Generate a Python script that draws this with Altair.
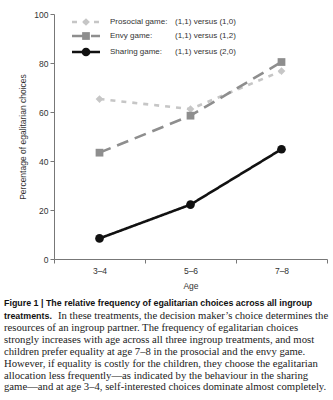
import altair as alt
import pandas as pd

ages = ["3–4", "5–6", "7–8"]
games = ["Prosocial game:", "Envy game:", "Sharing game:"]
comparisons = ["(1,1) versus (1,0)", "(1,1) versus (1,2)", "(1,1) versus (2,0)"]
prosocial = [65.3, 61.2, 76.7]
envy = [43.4, 58.5, 80.4]
sharing = [8.4, 22.2, 44.8]
y_ticks = [0, 20, 40, 60, 80, 100]

colors = ["#c6c6c6", "#8e8e8e", "#111111"]
dashes = [[5, 6], [12, 7], [1, 0]]
shapes = ["diamond", "square", "circle"]
sizes = [60, 60, 75]

caption_bold1 = "Figure 1 | The relative frequency of egalitarian choices across all ingroup"
caption_bold2 = "treatments."
caption_lines = [
    "In these treatments, the decision maker\u2019s choice determines the",
    "resources of an ingroup partner. The frequency of egalitarian choices",
    "strongly increases with age across all three ingroup treatments, and most",
    "children prefer equality at age 7\u20138 in the prosocial and the envy game.",
    "However, if equality is costly for the children, they choose the egalitarian",
    "allocation less frequently\u2014as indicated by the behaviour in the sharing",
    "game\u2014and at age 3\u20134, self-interested choices dominate almost completely.",
]

W, H = 273, 245
series = [prosocial, envy, sharing]

xenc = alt.X("age:N", sort=ages,
             scale=alt.Scale(type="band", domain=ages, paddingInner=0, paddingOuter=0),
             bandPosition=0.5,
             axis=alt.Axis(title="Age", tickBand="extent", labelAngle=0, labelFontSize=8.5,
                           labelColor="#333", titleFontSize=8.5, titleFontWeight="normal",
                           titleColor="#333", domainColor="#777", tickColor="#777",
                           tickSize=4, labelPadding=3, titlePadding=7,
                           labelFont="Liberation Sans", titleFont="Liberation Sans"))
yenc = alt.Y("value:Q", scale=alt.Scale(domain=[0, 100]),
             axis=alt.Axis(title="Percentage of egalitarian choices", values=y_ticks,
                           grid=False, labelFontSize=8.5, labelColor="#333",
                           titleFontSize=8.5, titleFontWeight="normal", titleColor="#333",
                           domainColor="#777", tickColor="#777", tickSize=4, labelPadding=2,
                           titlePadding=6, labelFont="Liberation Sans",
                           titleFont="Liberation Sans"))

layers = []
for i, g in enumerate(games):
    df = pd.DataFrame({"age": ages, "value": series[i]})
    base = alt.Chart(df)
    layers.append(base.mark_line(color=colors[i], strokeWidth=2.6,
                                 strokeDash=dashes[i]).encode(x=xenc, y=yenc))
    layers.append(base.mark_point(shape=shapes[i], filled=True, opacity=1, color=colors[i],
                                  size=sizes[i]).encode(x=xenc, y=yenc))

# manual legend
leg = pd.DataFrame({"game": games, "comp": comparisons})
leg_y = [8, 22, 38]
for i, g in enumerate(games):
    d = leg[leg.game == g]
    b = alt.Chart(d)
    layers.append(b.mark_rule(color=colors[i], strokeWidth=2.6, strokeDash=dashes[i]).encode(
        x=alt.value(18), x2=alt.value(46), y=alt.value(leg_y[i])))
    layers.append(b.mark_point(shape=shapes[i], filled=True, opacity=1, color=colors[i],
                               size=sizes[i]).encode(x=alt.value(32), y=alt.value(leg_y[i])))
    layers.append(b.mark_text(align="left", baseline="middle", fontSize=8, color="#333",
                              font="Liberation Sans").encode(
        x=alt.value(56), y=alt.value(leg_y[i]), text="game:N"))
    layers.append(b.mark_text(align="left", baseline="middle", fontSize=8, color="#333",
                              font="Liberation Sans").encode(
        x=alt.value(121), y=alt.value(leg_y[i]), text="comp:N"))

# caption
cap0 = alt.Chart(pd.DataFrame({"t": [caption_bold1]})).mark_text(
    align="left", baseline="middle", fontSize=8.9, fontWeight="bold",
    font="Liberation Sans", color="#111").encode(
    x=alt.value(-50), y=alt.value(289), text="t:N")
cap1 = alt.Chart(pd.DataFrame({"t": [caption_bold2]})).mark_text(
    align="left", baseline="middle", fontSize=8.9, fontWeight="bold",
    font="Liberation Sans", color="#111").encode(
    x=alt.value(-50), y=alt.value(302), text="t:N")
layers += [cap0, cap1]
cap_df = pd.DataFrame({"t": caption_lines, "i": list(range(len(caption_lines)))})
for k, line in enumerate(caption_lines):
    layers.append(alt.Chart(cap_df[cap_df.i == k]).mark_text(
        align="left", baseline="middle", fontSize=10.7, font="Liberation Serif",
        color="#222").encode(
        x=alt.value(-50 + (54 if k == 0 else 0)), y=alt.value(302 + 11.9 * k), text="t:N"))

chart = alt.layer(*layers).properties(
    width=W, height=H,
    autosize=alt.AutoSizeParams(type="none"),
    padding={"left": 54, "top": 14, "right": 6, "bottom": 141},
    background="white",
).configure_view(stroke=None)

chart.save("out.html", embed_options={"renderer": "svg", "actions": False})
